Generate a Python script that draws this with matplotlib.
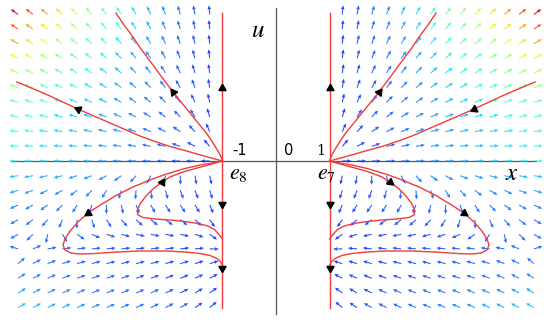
import numpy as np
import matplotlib
matplotlib.use("Agg")
import matplotlib.pyplot as plt

plt.rcParams['mathtext.fontset'] = 'stix'

# red trajectories on the left side (right side is the mirror image)
curve_a_x = [-4.832, -4.496, -4.216, -3.937, -3.694, -3.377, -3.097, -2.817, -2.537,
             -2.257, -1.978, -1.698, -1.474, -1.287, -1.138, -1.0]
curve_a_u = [1.474, 1.334, 1.213, 1.082, 0.970, 0.830, 0.709, 0.588, 0.466,
             0.364, 0.271, 0.196, 0.131, 0.078, 0.037, 0.0]
curve_b_x = [-2.985, -2.836, -2.668, -2.519, -2.351, -2.146, -1.922, -1.772, -1.604,
             -1.437, -1.287, -1.175, -1.082, -1.026, -1.0]
curve_b_u = [2.761, 2.537, 2.313, 2.090, 1.866, 1.586, 1.287, 1.101, 0.896,
             0.690, 0.504, 0.336, 0.187, 0.075, 0.0]
curve_c_x = [-1.0, -1.138, -1.418, -1.735, -2.071, -2.351, -2.668, -2.966, -3.246,
             -3.507, -3.694, -3.843, -3.937, -3.974, -3.937, -3.825, -3.657, -3.377,
             -2.966, -2.537, -2.034, -1.698, -1.418, -1.231, -1.119, -1.045, -1.0]
curve_c_u = [0.0, -0.028, -0.075, -0.149, -0.252, -0.354, -0.485, -0.634, -0.802,
             -0.970, -1.138, -1.306, -1.455, -1.567, -1.660, -1.716, -1.735, -1.726,
             -1.698, -1.679, -1.679, -1.698, -1.726, -1.763, -1.810, -1.866, -1.940]
curve_d_x = [-1.0, -1.194, -1.474, -1.735, -1.978, -2.127, -2.295, -2.425, -2.537,
             -2.593, -2.575, -2.481, -2.257, -1.978, -1.698, -1.455, -1.269, -1.138,
             -1.063, -1.0]
curve_d_u = [0.0, -0.056, -0.131, -0.205, -0.299, -0.392, -0.522, -0.653, -0.802,
             -0.933, -1.007, -1.054, -1.082, -1.101, -1.129, -1.166, -1.213, -1.287,
             -1.371, -1.455]

# arrowheads: x, u, direction (deg)
heads_x = [-3.69, -1.92, -3.51, -2.13, 3.69, 1.92, 3.51, 2.13,
           -1.0, -1.0, -1.0, 1.0, 1.0, 1.0]
heads_u = [0.97, 1.29, -0.97, -0.39, 0.97, 1.29, -0.97, -0.39,
           1.36, -0.80, -2.0, 1.36, -0.80, -2.0]
heads_dir = [156, 127, 213, 60, 204, 53, -33, -38,
             90, 270, 270, 90, 270, 270]

# vector field grid
grid_x = np.linspace(-4.81, 4.81, 36)
grid_u = np.linspace(2.735, -2.735, 21)


def field(x, u):
    d = np.abs(x) - 1
    s = np.sign(x)
    w = -u
    wn = 0.3 * d + 0.04 * d ** 2
    wu = 1.4 + 0.45 * np.exp(-d / 0.35) + 0.05 * d
    fo_lo = 0.5 * np.sqrt(d) * (wn - w)
    fu_lo = np.where(w < wu, -w * (wu - w) / wu, 0.5 * (w - wu))
    fo = np.where(u >= 0, d, fo_lo)
    fu = np.where(u >= 0, u, fu_lo)
    g = 0.3 + 0.7 * ((w - 1.5) / 1.5) ** 2
    speed = np.where(u >= 0, 0.14 + 0.06 * d + 0.0054 * (d * u) ** 2,
                     0.15 + 0.055 * d * g)
    return s * fo, fu, np.clip(speed, 0, 1)


fig = plt.figure(figsize=(5.5, 3.22), dpi=100)
ax = fig.add_axes([0, 0, 1, 1])
ax.set_xlim(-276 / 53.6, 274 / 53.6)
ax.set_ylim(-161 / 53.6, 161 / 53.6)
ax.axis('off')

X, U = np.meshgrid(grid_x, grid_u)
keep = np.abs(X) > 1
X, U = X[keep], U[keep]
fx, fu, sp = field(X, U)
n = np.hypot(fx, fu)
L = 0.17
ax.quiver(X, U, fx / n * L, fu / n * L, sp, cmap='jet', clim=(0, 1),
          angles='xy', scale_units='xy', scale=1, pivot='tail', alpha=0.85,
          width=0.0019, headwidth=3.5, headlength=4, headaxislength=3.5, zorder=2)

# axes lines
gray = '#555555'
ax.plot([-4.95, 4.85], [0, 0], color=gray, lw=0.9, zorder=1)
ax.plot([0, 0], [-2.86, 2.86], color=gray, lw=0.9, zorder=1)

red = '#f03c3c'
for sgn in (-1, 1):
    ax.plot([sgn, sgn], [-2.74, 2.76], color=red, lw=1.0, zorder=3)
    for cx, cu in [(curve_a_x, curve_a_u), (curve_b_x, curve_b_u),
                   (curve_c_x, curve_c_u), (curve_d_x, curve_d_u)]:
        ax.plot(-sgn * np.array(cx), cu, color=red, lw=1.0, zorder=3)

for hx, hu, hd in zip(heads_x, heads_u, heads_dir):
    ax.plot(hx, hu, marker=(3, 0, hd - 90), color='black', ms=6, zorder=4)

# labels
ax.text(-0.82, 0.06, '-1', fontsize=10.5, family='DejaVu Sans', va='bottom', ha='left')
ax.text(0.15, 0.06, '0', fontsize=10.5, family='DejaVu Sans', va='bottom', ha='left')
ax.text(0.93, 0.06, '1', fontsize=10.5, family='DejaVu Serif', va='bottom', ha='right')
ax.text(-0.88, -0.05, r'$e_{\mathrm{8}}$', fontsize=16, va='top', ha='left')
ax.text(0.76, -0.05, r'$e_{\mathrm{7}}$', fontsize=16, va='top', ha='left')
ax.text(-0.33, 2.45, r'$u$', fontsize=18, ha='center', va='center')
ax.text(4.4, -0.22, r'$x$', fontsize=18, ha='center', va='center')

fig.savefig('out.png', dpi=100)
